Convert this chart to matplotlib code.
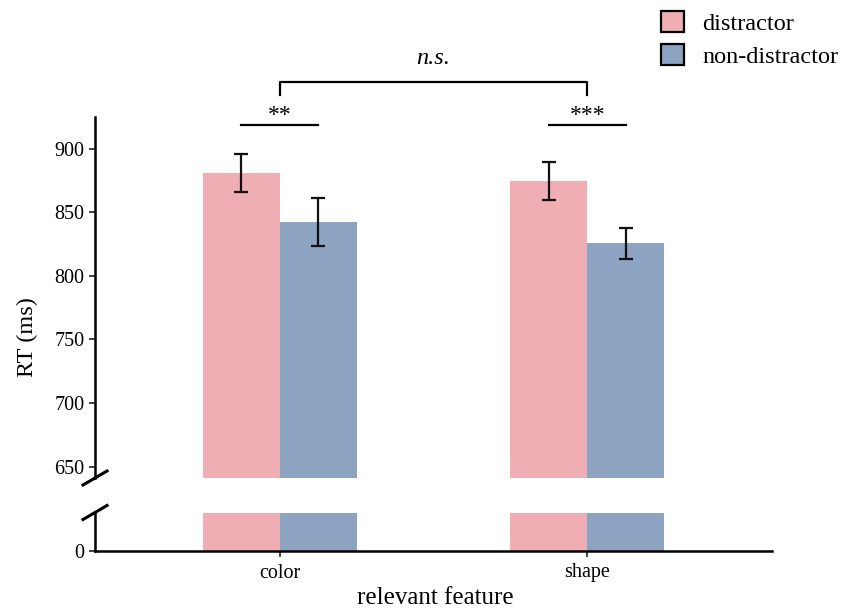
import matplotlib
matplotlib.use("Agg")
import matplotlib.pyplot as plt
from matplotlib.patches import Patch
from matplotlib.lines import Line2D
import numpy as np

plt.rcParams['font.family'] = ['Liberation Serif', 'DejaVu Serif']

categories = ["color", "shape"]
distractor = [881.2, 874.6]
distractor_se = [15.0, 14.8]
non_distractor = [842.4, 825.6]
non_distractor_se = [18.7, 12.2]
series_labels = ["distractor", "non-distractor"]
sig_within = ["**", "***"]
sig_between = "n.s."

pink = "#EEAEB4"
blue = "#8DA3C2"

W, H = 842, 609
fig = plt.figure(figsize=(W / 100, H / 100), dpi=100)

def fx(px):
    return px / W

def fy(py):
    return 1 - py / H

left, right = fx(95), fx(772)
ax_top = fig.add_axes([left, fy(478), right - left, fy(117) - fy(478)])
ax_bot = fig.add_axes([left, fy(551), right - left, fy(513) - fy(551)])

x = np.arange(1, len(categories) + 1)
bw = 0.25

for ax in (ax_top, ax_bot):
    ax.bar(x - bw / 2, distractor, width=bw, color=pink, zorder=2)
    ax.bar(x + bw / 2, non_distractor, width=bw, color=blue, zorder=2)
    ax.set_xlim(0.4, 2.6)
    for s in ["top", "right"]:
        ax.spines[s].set_visible(False)
    ax.spines["left"].set_linewidth(1.8)
    ax.spines["bottom"].set_linewidth(1.8)
    ax.tick_params(axis="both", labelsize=14.5, length=4, width=1.2, color="#222222")

ekw = dict(fmt="none", ecolor="#111111", elinewidth=1.6, capsize=5, capthick=1.6, zorder=3)
ax_top.errorbar(x - bw / 2, distractor, yerr=distractor_se, **ekw)
ax_top.errorbar(x + bw / 2, non_distractor, yerr=non_distractor_se, **ekw)

ax_top.set_ylim(641, 925)
ax_top.set_yticks([650, 700, 750, 800, 850, 900])
ax_top.spines["bottom"].set_visible(False)
ax_top.set_xticks([])

ax_bot.set_ylim(0, 30)
ax_bot.set_yticks([0])
ax_bot.set_xticks(x)
ax_bot.set_xticklabels(categories)
ax_bot.tick_params(axis="x", pad=5)

fig.text(fx(27), fy(337), "RT (ms)", rotation=90, fontsize=17.5, ha="center", va="center")
fig.text(fx(435), fy(598), "relevant feature", fontsize=18, ha="center", va="center")

# break marks
for cy in (478, 512.5):
    fig.add_artist(Line2D([fx(83), fx(107)], [fy(cy + 7), fy(cy - 7)], color="black", lw=2.2))

# significance annotations
lkw = dict(color="black", lw=1.6, clip_on=False)
for xi, s in zip(x, sig_within):
    ax_top.plot([xi - bw / 2, xi + bw / 2], [919, 919], **lkw)
    ax_top.text(xi, 926.5, s, ha="center", va="center", fontsize=17, clip_on=False)
ax_top.plot([x[0], x[0], x[1], x[1]], [942.5, 952.8, 952.8, 942.5], **lkw)
ax_top.text((x[0] + x[1]) / 2, 971, sig_between, ha="center", va="center", fontsize=17.5,
            style="italic", clip_on=False)

handles = [Patch(facecolor=pink, edgecolor="black", linewidth=1.6),
           Patch(facecolor=blue, edgecolor="black", linewidth=1.6)]
fig.legend(handles, series_labels, loc="upper right", bbox_to_anchor=(fx(841), fy(9)),
           frameon=False, fontsize=17.5, handlelength=0.95, handleheight=0.95,
           handletextpad=0.75, labelspacing=0.35, borderaxespad=0, borderpad=0.1)

fig.savefig("out.png", dpi=100)
